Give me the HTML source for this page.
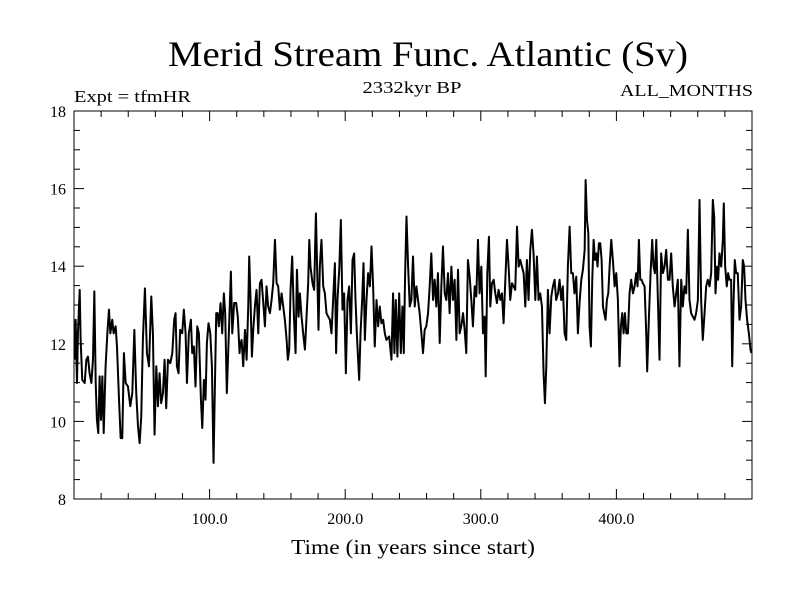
<!DOCTYPE html>
<html><head><meta charset="utf-8"><style>
html,body{margin:0;padding:0;background:#fff;}
svg{display:block;}
text{font-family:"Liberation Serif",serif;fill:#000;}
</style></head><body>
<svg id="chart" width="800" height="600" viewBox="0 0 800 600" xmlns="http://www.w3.org/2000/svg">
<text x="428" y="66" font-size="36" text-anchor="middle" textLength="520" lengthAdjust="spacingAndGlyphs">Merid Stream Func. Atlantic (Sv)</text>
<text x="412" y="93" font-size="17" text-anchor="middle" textLength="99" lengthAdjust="spacingAndGlyphs">2332kyr BP</text>
<text x="74" y="102" font-size="17" textLength="117" lengthAdjust="spacingAndGlyphs">Expt = tfmHR</text>
<text x="753" y="96" font-size="17" text-anchor="end" textLength="133" lengthAdjust="spacingAndGlyphs">ALL_MONTHS</text>
<text x="413" y="554" font-size="21" text-anchor="middle" textLength="244" lengthAdjust="spacingAndGlyphs">Time (in years since start)</text>
<g id="axes"></g>
<path id="series" fill="none" stroke="#000" stroke-width="2" stroke-linejoin="round"/>
<rect x="74" y="111" width="678" height="388" fill="none" stroke="#000" stroke-width="1"/>
</svg>
<script>
const xTickValues = [100, 200, 300, 400];
const xTickLabels = ["100.0", "200.0", "300.0", "400.0"];
const yTickValues = [8, 10, 12, 14, 16, 18];
const yTickLabels = ["8", "10", "12", "14", "16", "18"];
const years = [0.5,1.2,2.2,2.9,4.2,4.9,6.1,7.9,9.1,10.3,11.5,12.8,14.0,15.0,16.0,16.9,17.9,18.9,19.9,20.9,21.9,23.3,24.6,25.8,26.8,28.2,29.2,30.7,31.7,33.2,34.4,35.6,36.8,38.1,39.8,41.5,43.0,44.5,45.9,47.2,48.4,49.6,50.8,52.3,53.8,55.3,57.0,58.2,59.4,60.7,61.9,63.1,64.3,65.6,66.8,68.0,69.3,71.0,72.5,73.9,74.9,75.9,77.1,78.3,79.8,81.0,82.3,83.3,84.7,86.2,87.2,88.4,89.6,90.9,92.1,93.6,94.6,95.8,97.0,98.0,99.2,100.5,101.7,102.9,103.9,104.9,105.9,106.8,108.1,109.3,110.5,111.5,112.7,113.7,114.7,115.7,116.7,118.1,119.6,120.8,122.1,
122.4,123.6,124.8,126.1,127.3,128.5,129.2,130.2,131.2,132.2,133.4,134.6,135.9,137.1,138.3,139.6,140.8,142.0,143.2,144.5,145.7,146.9,148.2,149.4,150.6,151.8,153.1,154.3,155.5,156.8,157.7,158.7,159.7,160.9,162.2,163.4,164.4,165.6,166.6,167.8,169.0,170.3,171.5,172.7,173.5,174.4,175.9,177.1,178.4,179.6,180.3,181.3,182.5,183.8,185.0,186.2,187.5,188.7,189.9,191.1,192.4,193.3,194.3,195.6,196.8,198.0,199.2,200.5,201.7,202.9,204.2,205.4,206.6,207.6,208.8,210.3,211.3,212.5,213.5,214.5,215.7,216.9,218.2,219.4,220.6,221.8,223.1,224.3,225.5,226.7,228.0,229.2,230.4,232.4,234.1,235.3,236.3,237.3,238.5,239.8,241.0,242.2,243.2,244.2,245.2,246.4,247.6,
248.8,250.0,251.3,252.5,253.7,254.9,256.2,257.4,258.6,259.8,261.1,262.3,263.5,264.8,266.0,267.2,268.4,269.7,270.9,272.1,273.4,274.6,275.8,277.0,278.3,279.5,280.7,282.0,283.2,284.4,285.6,286.9,288.1,289.3,290.5,291.8,293.0,294.2,295.5,296.7,297.9,299.1,300.4,301.6,302.8,303.6,304.8,306.0,307.0,308.2,309.5,310.7,311.9,313.1,314.4,315.6,316.8,318.1,319.3,320.5,321.7,323.0,324.2,325.4,326.7,327.9,329.1,330.3,331.6,332.8,334.0,335.2,336.5,337.7,338.9,340.2,341.4,342.6,343.8,345.1,346.3,347.3,348.3,349.5,350.7,352.0,353.2,354.4,355.6,356.9,358.1,359.3,360.5,361.8,363.0,364.2,365.5,366.7,367.9,369.1,370.4,371.6,372.8,
374.1,375.3,376.6,377.3,378.3,379.3,380.2,381.2,382.2,383.2,384.2,385.2,386.1,387.1,388.1,389.1,390.1,391.0,392.0,393.0,394.0,395.0,396.2,397.4,398.7,399.9,401.1,402.3,403.3,404.3,405.3,406.3,407.3,408.5,409.7,410.9,412.2,413.4,414.6,415.6,416.6,417.6,418.6,419.5,420.8,422.0,422.7,424.0,425.2,426.4,427.4,428.4,429.4,430.6,431.8,433.0,434.3,435.5,436.7,438.0,439.2,440.4,441.6,442.9,444.1,445.3,446.5,447.8,449.0,450.2,451.5,452.7,453.9,455.1,456.4,457.6,458.8,460.1,461.3,462.5,463.7,465.0,466.2,467.4,468.7,469.9,471.1,472.1,473.1,474.1,475.0,476.0,477.3,478.5,479.2,480.2,481.4,482.4,483.4,484.6,485.4,486.3,487.3,488.3,489.5,490.8,492.0,493.2,494.2,495.2,496.4,497.7,498.9,499.6];
const streamFunc = [11.59,12.62,10.99,12.27,13.39,12.10,11.07,10.99,11.59,11.67,11.24,10.99,11.59,13.35,10.99,10.04,9.70,11.16,10.04,11.16,9.70,11.42,12.27,12.88,12.27,12.62,12.27,12.45,11.93,10.56,9.57,9.57,11.76,10.99,10.90,10.39,10.73,12.36,10.73,9.87,9.44,10.13,12.10,13.43,11.76,11.42,13.22,12.27,9.66,11.42,10.39,11.24,10.47,10.73,11.59,10.34,11.59,11.50,11.76,12.62,12.79,11.42,11.24,12.36,12.27,12.88,12.27,10.99,12.27,12.62,11.76,11.93,10.90,12.45,12.27,10.56,9.83,11.07,10.56,12.02,12.53,12.27,11.42,8.93,10.90,12.79,12.79,12.45,13.05,12.27,13.30,12.79,10.73,11.76,12.79,13.86,12.27,13.05,13.05,12.70,11.76,
11.93,12.10,11.42,12.36,11.59,12.96,14.25,13.13,11.67,12.36,12.96,13.39,12.27,13.56,13.65,13.05,12.45,13.48,12.96,12.79,13.13,13.56,14.68,13.56,13.48,12.88,13.30,12.96,12.62,12.10,11.59,11.85,13.39,14.25,12.70,11.76,13.91,12.70,13.30,12.70,12.27,11.85,12.70,13.56,14.68,13.99,13.56,13.39,15.36,13.48,12.36,13.99,14.68,13.48,13.30,12.79,12.70,12.62,12.27,13.13,14.08,11.76,13.13,13.91,15.19,12.88,13.30,11.24,13.13,13.48,12.27,14.16,14.33,13.13,12.10,11.07,12.27,13.13,14.08,12.10,13.13,13.82,13.48,14.51,13.48,11.93,13.13,12.45,12.96,12.53,12.62,12.27,12.10,12.19,11.59,13.30,11.76,13.13,11.67,13.30,11.76,12.96,11.76,13.82,15.28,13.99,12.96,
13.13,14.25,12.96,13.48,13.13,12.79,12.27,11.76,12.36,12.45,12.79,13.48,14.33,13.13,13.65,12.96,13.82,12.02,13.48,14.51,13.30,13.13,13.82,12.79,13.99,13.13,13.65,12.10,13.91,12.27,12.45,12.79,12.36,11.76,14.16,13.73,13.13,12.45,13.48,13.22,14.68,13.30,13.99,12.27,12.70,11.16,13.82,14.76,12.96,13.56,13.65,13.30,13.05,13.39,13.13,13.30,12.53,13.65,14.68,13.99,13.13,13.56,13.48,13.39,15.02,13.99,14.16,13.99,13.82,12.96,14.16,13.13,14.42,14.94,14.33,13.13,14.25,13.13,13.30,12.96,11.24,10.47,11.42,13.39,12.27,13.22,13.48,13.65,13.13,13.30,13.65,13.13,13.48,12.27,12.10,13.99,15.02,13.82,13.82,13.30,13.73,12.27,13.05,
13.65,13.91,14.42,16.22,15.19,14.85,12.45,11.93,13.65,14.68,14.16,14.33,13.99,14.59,14.59,14.16,12.96,12.79,12.62,13.13,13.30,13.99,14.68,14.16,13.48,13.82,13.13,11.42,12.45,12.79,12.27,12.79,12.27,12.27,13.30,13.65,13.30,13.48,13.82,13.48,14.68,13.65,13.65,13.56,13.48,12.27,11.29,12.70,13.82,14.68,13.99,13.82,14.68,13.13,11.59,14.33,13.82,13.99,14.42,13.65,13.65,14.33,13.48,12.96,13.30,13.65,11.42,13.65,12.96,13.48,13.30,14.94,13.13,12.79,12.70,12.62,12.79,13.13,15.71,13.13,12.10,12.79,13.48,13.65,13.48,13.82,15.71,15.28,13.30,13.99,13.65,14.33,13.99,14.68,15.62,13.99,13.48,13.82,13.65,13.65,11.42,12.96,14.16,13.82,13.82,12.62,12.96,14.16,13.99,13.13,12.62,12.27,11.85,11.76];

const X0 = 74, X1 = 752, Y0 = 499, Y1 = 111;
const xMin = 0, xMax = 500, yMin = 8, yMax = 18;
function xScale(v){ return X0 + (v - xMin) / (xMax - xMin) * (X1 - X0); }
function yScale(v){ return Y0 - (v - yMin) / (yMax - yMin) * (Y0 - Y1); }
const NS = "http://www.w3.org/2000/svg";
const axes = document.getElementById("axes");
function line(x1,y1,x2,y2,name){
  const l = document.createElementNS(NS,"line");
  l.setAttribute("x1",x1); l.setAttribute("y1",y1); l.setAttribute("x2",x2); l.setAttribute("y2",y2);
  l.setAttribute("stroke","#000"); l.setAttribute("stroke-width","1");
  
  
  axes.appendChild(l);
}
for (let v = 20; v < xMax; v += 20) {
  const x = xScale(v);
  const len = (v % 100 === 0) ? 10 : 6;
  line(x, Y0, x, Y0 - len, "x-tick");
  line(x, Y1, x, Y1 + len, "x-tick-top");
}
for (let v = yMin + 0.5; v < yMax; v += 0.5) {
  const y = yScale(v);
  const len = (Math.abs(v % 2) < 1e-6) ? 10 : 6;
  line(X0, y, X0 + len, y, "y-tick");
  line(X1, y, X1 - len, y, "y-tick-right");
}
xTickValues.forEach((v, i) => {
  const t = document.createElementNS(NS, "text");
  t.setAttribute("x", xScale(v)); t.setAttribute("y", 524);
  t.setAttribute("font-size", "16"); t.setAttribute("text-anchor", "middle");
  t.textContent = xTickLabels[i];
  
  
  axes.appendChild(t);
});
yTickValues.forEach((v, i) => {
  const t = document.createElementNS(NS, "text");
  t.setAttribute("x", 66); t.setAttribute("y", yScale(v) + 6);
  t.setAttribute("font-size", "16"); t.setAttribute("text-anchor", "end");
  t.textContent = yTickLabels[i];
  
  
  axes.appendChild(t);
});
let d = "";
years.forEach((yr, i) => {
  d += (i ? "L" : "M") + xScale(yr).toFixed(2) + "," + yScale(streamFunc[i]).toFixed(2);
});
document.getElementById("series").setAttribute("d", d);
</script>
</body></html>
